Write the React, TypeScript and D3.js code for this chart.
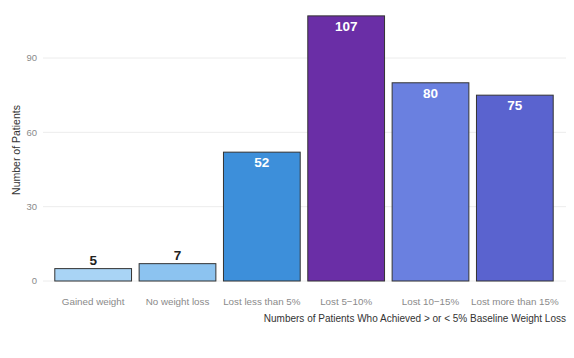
import React from "react";
import * as d3 from "d3";

const categories = ["Gained weight", "No weight loss", "Lost less than 5%", "Lost 5\u221210%", "Lost 10\u221215%", "Lost more than 15%"];
const values = [5, 7, 52, 107, 80, 75];
const colors = ["#a9d4f5", "#8cc3f0", "#3d8fda", "#6a2ea6", "#6a80e0", "#5a63cf"];
const yTicks = [0, 30, 60, 90];
const labelInside = [false, false, true, true, true, true];

export default function App() {
  const W = 574, H = 358;
  const left = 43, right = 566, bottom = 281;
  const x = d3.scaleBand<string>().domain(categories).range([51, 557]).paddingInner(0.09).paddingOuter(0.045);
  const y = d3.scaleLinear().domain([0, 90]).range([bottom, 58]);
  const font = "Liberation Sans, Arial, sans-serif";
  return (
    <div style={{ position: "absolute", left: 0, top: 0 }}>
      <svg width={W} height={H} style={{ display: "block", background: "#fff" }}>
        {yTicks.map((t) => (
          <g key={t}>
            <line x1={left} x2={right} y1={y(t)} y2={y(t)} stroke="#ececec" strokeWidth={1} />
            <text x={37} y={y(t)} dy="0.35em" textAnchor="end" fontSize={9.5} fill="#8a8a8a" fontFamily={font}>{t}</text>
          </g>
        ))}
        {categories.map((c, i) => {
          const bx = x(c)!;
          const bw = x.bandwidth();
          const by = y(values[i]);
          return (
            <g key={c}>
              <rect x={bx} y={by} width={bw} height={bottom - by} fill={colors[i]} stroke="#333" strokeWidth={1} />
              {labelInside[i] ? (
                <text x={bx + bw / 2} y={by + 15} textAnchor="middle" fontSize={13.5} fontWeight="bold" fill="#fff" fontFamily={font}>{values[i]}</text>
              ) : (
                <text x={bx + bw / 2} y={by - 4} textAnchor="middle" fontSize={13.5} fontWeight="bold" fill="#222" fontFamily={font}>{values[i]}</text>
              )}
              <text x={bx + bw / 2} y={305} textAnchor="middle" fontSize={9.8} fill="#8a8a8a" fontFamily={font}>{c}</text>
            </g>
          );
        })}
        <text x={566} y={322} textAnchor="end" fontSize={10} fill="#333" fontFamily={font}>Numbers of Patients Who Achieved &gt; or &lt; 5% Baseline Weight Loss</text>
        <text transform={`translate(20,150) rotate(-90)`} textAnchor="middle" fontSize={10.5} fill="#333" fontFamily={font}>Number of Patients</text>
      </svg>
    </div>
  );
}
